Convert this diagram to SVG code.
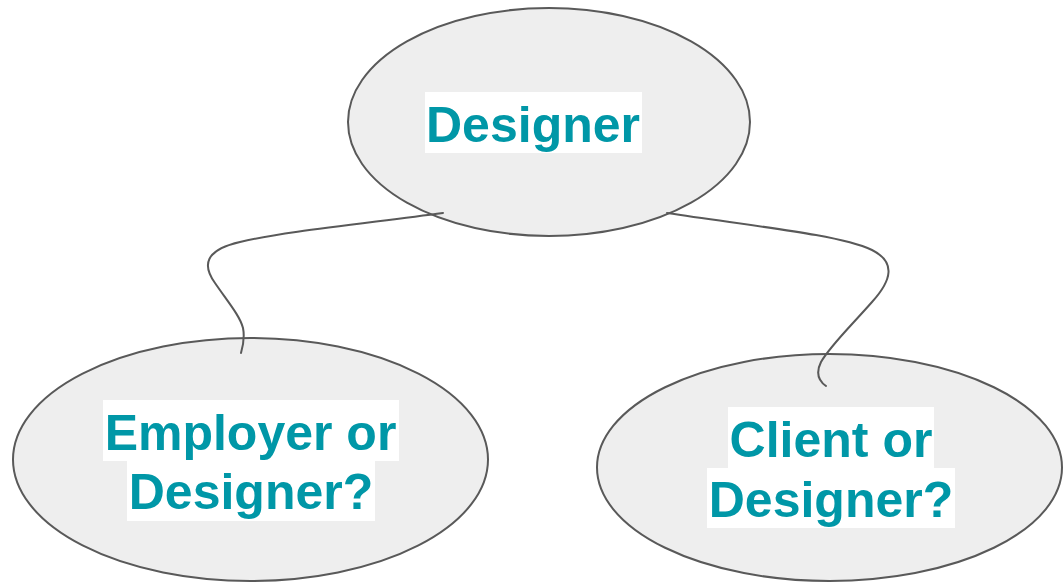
<svg xmlns="http://www.w3.org/2000/svg" width="1063" height="583" viewBox="0 0 1063 583">
  <style>
    .node { fill: #eeeeee; stroke: #595959; stroke-width: 2; }
    .label-bg { fill: #ffffff; }
    .label { font-family: "Liberation Sans", Arial, sans-serif; font-weight: bold; font-size: 50px; fill: #0097a7; text-anchor: middle; }
    .link { fill: none; stroke: #595959; stroke-width: 2; stroke-linecap: round; }
  </style>
  <rect width="1063" height="583" fill="#ffffff"/>

  <g id="node-designer">
    <ellipse class="node" cx="549" cy="122" rx="201" ry="114"/>
    <rect class="label-bg" x="425" y="92" width="217" height="61"/>
    <text class="label" x="533" y="142">Designer</text>
  </g>

  <g id="node-employer">
    <ellipse class="node" cx="250.5" cy="459.5" rx="237.5" ry="121.5"/>
    <rect class="label-bg" x="103" y="400" width="296" height="61"/>
    <rect class="label-bg" x="127" y="461" width="248" height="60"/>
    <text class="label" x="250.5" y="450">Employer or</text>
    <text class="label" x="251" y="509">Designer?</text>
  </g>

  <g id="node-client">
    <ellipse class="node" cx="829.5" cy="467.5" rx="232.5" ry="113.5"/>
    <rect class="label-bg" x="728" y="407" width="206" height="61"/>
    <rect class="label-bg" x="707" y="468" width="248" height="60"/>
    <text class="label" x="831" y="457">Client or</text>
    <text class="label" x="831" y="517">Designer?</text>
  </g>

  <g id="connectors">
    <path class="link" d="M443,213 C360,224 280,232 240,242 C205,250 202,265 215,283 C228,302 240,316 243,328 C245,338 243,346 241,353"/>
    <path class="link" d="M667,213 C760,227 840,235 872,250 C896,262 892,280 872,302 C850,327 830,346 821,362 C815,374 819,381 826,386"/>
  </g>
</svg>
